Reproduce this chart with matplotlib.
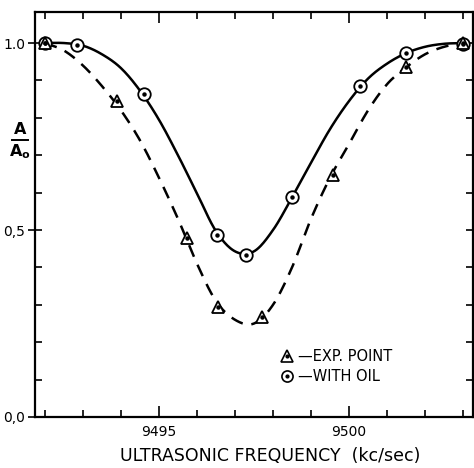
import numpy as np
import matplotlib
matplotlib.use("Agg")
import matplotlib.pyplot as plt
from matplotlib.lines import Line2D
from matplotlib.ticker import MultipleLocator, FixedLocator
from matplotlib.legend_handler import HandlerTuple

# --- data ---
oil_x = [9492.0, 9492.84, 9494.6, 9496.52, 9497.29, 9498.5, 9500.29, 9501.49, 9503.0]
oil_y = [1.0, 0.995, 0.864, 0.488, 0.433, 0.588, 0.885, 0.974, 0.997]

exp_x = [9492.0, 9493.89, 9495.75, 9496.56, 9497.70, 9499.58, 9501.5, 9503.0]
exp_y = [1.0, 0.845, 0.478, 0.293, 0.268, 0.647, 0.937, 1.0]

# smooth curves (every 0.5 kc/sec)
curve_x = [9492.0, 9492.5, 9493.0, 9493.5, 9494.0, 9494.5, 9495.0, 9495.5, 9496.0, 9496.5,
           9497.0, 9497.5, 9498.0, 9498.5, 9499.0, 9499.5, 9500.0, 9500.5, 9501.0,
           9501.5, 9502.0, 9502.5, 9503.0]
oil_curve_y = [1.0, 1.0, 0.993, 0.97, 0.933, 0.873, 0.795, 0.70, 0.598, 0.497,
               0.443, 0.443, 0.50, 0.587, 0.68, 0.77, 0.845, 0.905, 0.945,
               0.973, 0.99, 0.998, 1.0]
exp_curve_y = [1.0, 0.98, 0.94, 0.885, 0.82, 0.74, 0.64, 0.53, 0.41, 0.31,
               0.26, 0.25, 0.30, 0.40, 0.53, 0.64, 0.73, 0.82, 0.89,
               0.935, 0.97, 0.99, 1.0]

x_tick_vals = [9495, 9500]
x_tick_labels = ["9495", "9500"]
y_tick_vals = [0.0, 0.5, 1.0]
y_tick_labels = ["0,0", "0,5", "1.0"]

xlabel = "ULTRASONIC FREQUENCY  (kc/sec)"
legend_labels = ["\u2014EXP. POINT", "\u2014WITH OIL"]

plt.rcParams['font.family'] = ['DejaVu Sans']

W, H = 474, 468
fig = plt.figure(figsize=(W / 100, H / 100), dpi=100)
ax = fig.add_axes([35 / W, 1 - 417 / H, (473 - 35) / W, (417 - 12) / H])


def smooth(xs, ys):
    xs = np.asarray(xs, float)
    ys = np.asarray(ys, float)
    pts = np.column_stack([xs, ys])
    P = np.vstack([2 * pts[0] - pts[1], pts, 2 * pts[-1] - pts[-2]])
    out = []
    for i in range(1, len(P) - 2):
        p0, p1, p2, p3 = P[i - 1], P[i], P[i + 1], P[i + 2]
        t = np.linspace(0, 1, 20, endpoint=False)[:, None]
        seg = 0.5 * ((2 * p1) + (-p0 + p2) * t + (2 * p0 - 5 * p1 + 4 * p2 - p3) * t ** 2
                     + (-p0 + 3 * p1 - 3 * p2 + p3) * t ** 3)
        out.append(seg)
    out.append(pts[-1][None, :])
    out = np.vstack(out)
    return out[:, 0], out[:, 1]


sx, sy = smooth(curve_x, oil_curve_y)
ax.plot(sx, sy, color='black', lw=1.8, solid_capstyle='round')
dx, dy = smooth(curve_x, exp_curve_y)
ax.plot(dx, dy, color='black', lw=1.8, dashes=(5, 3.5))

# markers: open circle / triangle with central dot
ax.plot(oil_x, oil_y, ls='none', marker='o', ms=9, mfc='white', mec='black', mew=1.3, zorder=3)
ax.plot(oil_x, oil_y, ls='none', marker='o', ms=2.2, mfc='black', mec='black', zorder=4)
ax.plot(exp_x, exp_y, ls='none', marker='^', ms=9, mfc='white', mec='black', mew=1.3, zorder=3)
ax.plot(exp_x, exp_y, ls='none', marker='o', ms=2.2, mfc='black', mec='black', zorder=4)

ax.set_xlim(9491.74, 9503.26)
ax.set_ylim(0.0, 1.083)

ax.xaxis.set_major_locator(FixedLocator(x_tick_vals))
ax.set_xticklabels(x_tick_labels)
ax.xaxis.set_minor_locator(MultipleLocator(1))
ax.yaxis.set_major_locator(FixedLocator(y_tick_vals))
ax.set_yticklabels(y_tick_labels)
ax.yaxis.set_minor_locator(MultipleLocator(0.1))

ax.tick_params(which='both', direction='in', top=True, right=True, width=1.2, color='black')
ax.tick_params(which='major', length=8, labelsize=10, pad=6)
ax.tick_params(which='minor', length=5)
ax.tick_params(axis='y', which='major', direction='inout', length=10, pad=2)
for sp in ax.spines.values():
    sp.set_linewidth(1.6)

ax.set_xlabel(xlabel, fontsize=12.5, labelpad=8)
ax.xaxis.set_label_coords(0.537, -0.075)

# y label A / A0
fig.text(20 / W, 1 - 130 / H, "A", ha='center', va='center', fontsize=11.5, fontweight='bold')
fig.add_artist(Line2D([12 / W, 28 / W], [1 - 140 / H, 1 - 140 / H], color='black', lw=1.4))
fig.text(20 / W, 1 - 152 / H, "A$_\\mathregular{o}$", ha='center', va='center', fontsize=11.5,
         fontweight='bold')

tri = Line2D([], [], ls='none', marker='^', ms=8, mfc='white', mec='black', mew=1.2)
circ = Line2D([], [], ls='none', marker='o', ms=8, mfc='white', mec='black', mew=1.2)
dot = Line2D([], [], ls='none', marker='o', ms=2, mfc='black', mec='black')
leg = ax.legend([(tri, dot), (circ, dot)], legend_labels, loc='lower left',
                bbox_to_anchor=(0.535, 0.05), frameon=False, handlelength=0.6,
                handletextpad=0.5, labelspacing=0.3, prop={'size': 10.5},
                handler_map={tuple: HandlerTuple(ndivide=1)})

fig.savefig("out.png", dpi=100)
